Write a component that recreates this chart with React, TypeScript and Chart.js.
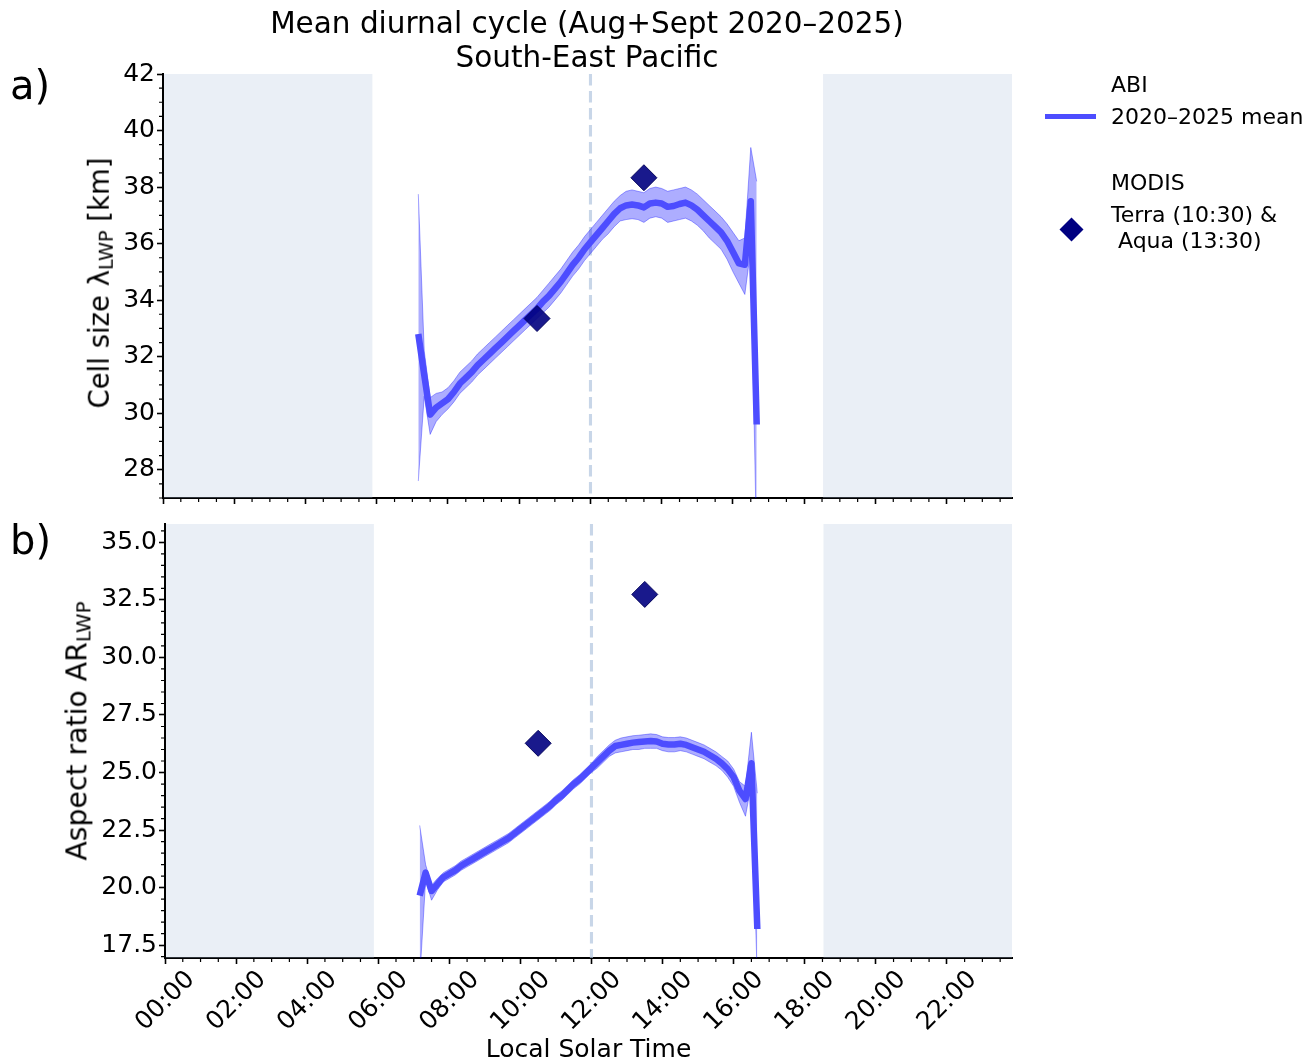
import React, { useEffect, useRef } from "react";
import { Chart, registerables } from "chart.js";

Chart.register(...registerables);

const FONT = "'DejaVu Sans', 'Liberation Sans', sans-serif";

// ---------- data ----------
const timeLabels = [
  "07:10", "07:20", "07:30", "07:40", "07:50",
  "08:00", "08:10", "08:20", "08:30", "08:40", "08:50",
  "09:00", "09:10", "09:20", "09:30", "09:40", "09:50",
  "10:00", "10:10", "10:20", "10:30", "10:40", "10:50",
  "11:00", "11:10", "11:20", "11:30", "11:40", "11:50",
  "12:00", "12:10", "12:20", "12:30", "12:40", "12:50",
  "13:00", "13:10", "13:20", "13:30", "13:40", "13:50",
  "14:00", "14:10", "14:20", "14:30", "14:40", "14:50",
  "15:00", "15:10", "15:20", "15:30", "15:40", "15:50",
  "16:00", "16:10", "16:20", "16:30", "16:40",
];

const cellMean = [
  32.8, 31.35, 29.95, 30.2, 30.35,
  30.5, 30.75, 31.05, 31.25, 31.45, 31.7,
  31.9, 32.1, 32.3, 32.5, 32.7, 32.9,
  33.1, 33.3, 33.5, 33.7, 33.95, 34.15,
  34.4, 34.65, 34.95, 35.25, 35.5, 35.8,
  36.05, 36.3, 36.55, 36.8, 37.05, 37.25,
  37.35, 37.38, 37.35, 37.28, 37.42, 37.45,
  37.42, 37.3, 37.33, 37.4, 37.45, 37.35,
  37.2, 37.0, 36.8, 36.6, 36.4, 36.1,
  35.7, 35.3, 35.25, 37.5, 29.6,
];
const cellLow = [
  27.6, 30.6, 29.25, 29.7, 29.95,
  30.15, 30.4, 30.7, 30.9, 31.1, 31.35,
  31.55, 31.75, 31.95, 32.15, 32.35, 32.55,
  32.75, 32.95, 33.15, 33.35, 33.55, 33.75,
  34.0, 34.25, 34.55, 34.85, 35.1, 35.4,
  35.65, 35.9, 36.15, 36.35, 36.6, 36.8,
  36.85, 36.88, 36.85, 36.75, 36.9, 36.95,
  36.9, 36.75, 36.8, 36.85, 36.9, 36.8,
  36.65, 36.45, 36.2, 36.0, 35.8, 35.45,
  35.0, 34.6, 34.2, 35.8, 25.0,
];
const cellHigh = [
  37.75, 32.2, 30.55, 30.7, 30.75,
  30.9, 31.15, 31.45, 31.65, 31.85, 32.1,
  32.3, 32.5, 32.7, 32.9, 33.1, 33.3,
  33.5, 33.7, 33.9, 34.1, 34.35, 34.6,
  34.85, 35.1, 35.4, 35.7, 35.95, 36.25,
  36.5, 36.75, 37.0, 37.25, 37.5, 37.7,
  37.85, 37.9, 37.85, 37.8, 37.95, 38.0,
  37.95, 37.85, 37.9, 37.95, 38.0, 37.9,
  37.75, 37.55, 37.35, 37.15, 36.95, 36.7,
  36.4, 36.1, 36.2, 39.4, 38.2,
];

const arMean = [
  19.65, 20.65, 19.85, 20.15, 20.45,
  20.6, 20.75, 20.95, 21.1, 21.25, 21.4,
  21.55, 21.7, 21.85, 22.0, 22.15, 22.35,
  22.55, 22.75, 22.95, 23.15, 23.35, 23.55,
  23.8, 24.0, 24.25, 24.5, 24.7, 24.95,
  25.2, 25.45, 25.7, 25.95, 26.15, 26.2,
  26.25, 26.3, 26.33, 26.35, 26.37, 26.35,
  26.25, 26.22, 26.22, 26.25, 26.2, 26.1,
  26.0, 25.9, 25.75, 25.6, 25.4, 25.15,
  24.8, 24.2, 23.85, 25.4, 18.2,
];
const arLow = [
  16.0, 20.3, 19.45, 19.9, 20.25,
  20.4, 20.55, 20.75, 20.9, 21.05, 21.2,
  21.35, 21.5, 21.65, 21.8, 21.95, 22.15,
  22.35, 22.55, 22.75, 22.95, 23.15, 23.35,
  23.6, 23.8, 24.05, 24.3, 24.5, 24.75,
  25.0, 25.2, 25.45, 25.7, 25.85, 25.9,
  25.95, 26.0, 26.0, 26.05, 26.05, 26.05,
  25.95, 25.9, 25.9, 25.95, 25.9, 25.8,
  25.7, 25.6, 25.45, 25.3, 25.1, 24.8,
  24.4, 23.7, 23.1, 24.5, 16.0,
];
const arHigh = [
  22.7, 21.0, 20.1, 20.4, 20.65,
  20.8, 20.95, 21.15, 21.3, 21.45, 21.6,
  21.75, 21.9, 22.05, 22.2, 22.35, 22.55,
  22.75, 22.95, 23.15, 23.35, 23.55, 23.75,
  24.0, 24.2, 24.45, 24.7, 24.9, 25.15,
  25.4, 25.7, 25.95, 26.2, 26.4, 26.5,
  26.55, 26.6, 26.62, 26.65, 26.68, 26.65,
  26.55, 26.52, 26.52, 26.55, 26.5, 26.4,
  26.3, 26.2, 26.05, 25.9, 25.7, 25.5,
  25.15, 24.6, 24.4, 26.75, 24.1,
];

const modisTimes = [10.5, 13.5];
const modisCell = [33.35, 38.33];
const modisAR = [26.27, 32.74];

const xTickValues = [0, 2, 4, 6, 8, 10, 12, 14, 16, 18, 20, 22];
const cellTicks = [28, 30, 32, 34, 36, 38, 40, 42];
const arTicks = [17.5, 20, 22.5, 25, 27.5, 30, 32.5, 35];
const nightSpans = [
  [0, 5.85],
  [18.5, 23.833],
];
const noonHour = 12;
const X_MAX = 23.833;

// ---------- styles ----------
const LINE = "#4d4dff";
const BAND = "rgba(0,0,255,0.32)";
const BAND_EDGE = "rgba(0,0,255,0.35)";
const NIGHT = "rgba(176,196,222,0.27)";
const NOON = "rgba(176,196,222,0.7)";

const hours = timeLabels.map((t) => {
  const [h, m] = t.split(":").map(Number);
  return h + m / 60;
});

function minorValues(lo: number, hi: number, step: number, majors: number[]) {
  const out: number[] = [];
  const start = Math.ceil(lo / step - 1e-9) * step;
  for (let v = start; v <= hi + 1e-9; v += step) {
    const r = Math.round(v * 1000) / 1000;
    if (!majors.some((m) => Math.abs(m - r) < 1e-6)) out.push(r);
  }
  return out;
}

const decorPlugin = {
  id: "decor",
  beforeDatasetsDraw(chart: any) {
    const { ctx, chartArea, scales } = chart;
    const x = scales.x;
    const { left, right, top, bottom } = chartArea;
    ctx.save();
    ctx.beginPath();
    ctx.rect(left, top, right - left, bottom - top);
    ctx.clip();
    ctx.fillStyle = NIGHT;
    nightSpans.forEach(([a, b]) => {
      const x1 = x.getPixelForValue(a);
      const x2 = x.getPixelForValue(b);
      ctx.fillRect(x1 + 1, top, x2 - x1, bottom - top);
    });
    const nx = x.getPixelForValue(noonHour);
    ctx.strokeStyle = NOON;
    ctx.lineWidth = 3.1;
    ctx.setLineDash([11.5, 5.5]);
    ctx.beginPath();
    ctx.moveTo(nx, top);
    ctx.lineTo(nx, bottom);
    ctx.stroke();
    ctx.restore();
  },
  afterDraw(chart: any, _args: any, opts: any) {
    const { ctx, chartArea, scales } = chart;
    ctx.save();
    ctx.strokeStyle = "#000";
    ctx.lineWidth = 1.2;
    ctx.beginPath();
    (opts.xMinor || []).forEach((v: number) => {
      const px = scales.x.getPixelForValue(v);
      ctx.moveTo(px, chartArea.bottom);
      ctx.lineTo(px, chartArea.bottom + 4);
    });
    (opts.yMinor || []).forEach((v: number) => {
      const py = scales.y.getPixelForValue(v);
      ctx.moveTo(chartArea.left, py);
      ctx.lineTo(chartArea.left - 4, py);
    });
    ctx.stroke();
    ctx.restore();
  },
};

type Panel = {
  mean: number[];
  low: number[];
  high: number[];
  modis: number[];
  yMin: number;
  yMax: number;
  yTicks: number[];
  dec: number;
  showX: boolean;
  padTop: number;
  xAxisHeight: number;
  leftWidth: number;
};

function pad2(v: number) {
  const s = String(Math.round(v));
  return (s.length < 2 ? "0" + s : s) + ":00";
}

function buildChart(canvas: HTMLCanvasElement, p: Panel) {
  const pts = (arr: number[]) => hours.map((h, i) => ({ x: h, y: arr[i] }));
  const gridOpts = {
    display: true,
    drawOnChartArea: false,
    drawTicks: true,
    tickLength: 6,
    tickWidth: 1.6,
    tickColor: "#000",
  };
  const borderOpts = { display: true, color: "#000", width: 2 };
  return new Chart(canvas, {
    type: "line",
    data: {
      datasets: [
        {
          type: "scatter",
          label: "MODIS",
          data: modisTimes.map((t, i) => ({ x: t, y: p.modis[i] })),
          pointStyle: "rectRot",
          pointRadius: 13,
          backgroundColor: "rgba(0,0,128,0.9)",
          borderColor: "rgba(0,0,90,0.95)",
          borderWidth: 1,
        } as any,
        {
          label: "mean",
          data: pts(p.mean),
          borderColor: LINE,
          borderWidth: 6.5,
          pointRadius: 0,
          fill: false,
          tension: 0,
          borderJoinStyle: "round",
          borderCapStyle: "butt",
        },
        {
          label: "high",
          data: pts(p.high),
          borderColor: BAND_EDGE,
          backgroundColor: BAND,
          borderWidth: 1,
          pointRadius: 0,
          fill: "+1",
          tension: 0,
        },
        {
          label: "low",
          data: pts(p.low),
          borderColor: BAND_EDGE,
          borderWidth: 1,
          pointRadius: 0,
          fill: false,
          tension: 0,
        },
      ],
    },
    options: {
      responsive: false,
      animation: false,
      devicePixelRatio: 1,
      events: [],
      layout: { padding: { left: 0, top: p.padTop, right: 1309 - 1012, bottom: 0 } },
      plugins: {
        legend: { display: false },
        tooltip: { enabled: false },
        decor: {
          xMinor: minorValues(0, X_MAX, 0.5, xTickValues),
          yMinor: minorValues(p.yMin, p.yMax, 0.5, p.yTicks),
        },
      } as any,
      scales: {
        x: {
          type: "linear",
          min: 0,
          max: X_MAX,
          afterBuildTicks: (s: any) => {
            s.ticks = xTickValues.map((v) => ({ value: v }));
          },
          afterFit: (s: any) => {
            s.height = p.xAxisHeight;
          },
          ticks: {
            display: p.showX,
            autoSkip: false,
            minRotation: 45,
            maxRotation: 45,
            labelOffset: 26,
            padding: 1,
            color: "#000",
            font: { family: FONT, size: 25 },
            callback: (v: any) => pad2(Number(v)),
          },
          grid: gridOpts,
          border: borderOpts,
          title: {
            display: p.showX,
            text: "Local Solar Time",
            color: "#000",
            font: { family: FONT, size: 25 },
            padding: { top: 0, bottom: 0 },
          },
        },
        y: {
          type: "linear",
          min: p.yMin,
          max: p.yMax,
          afterBuildTicks: (s: any) => {
            s.ticks = p.yTicks.map((v) => ({ value: v }));
          },
          afterFit: (s: any) => {
            s.width = p.leftWidth;
          },
          ticks: {
            color: "#000",
            padding: 2,
            font: { family: FONT, size: 25 },
            callback: (v: any) => Number(v).toFixed(p.dec),
          },
          grid: gridOpts,
          border: borderOpts,
        },
      },
    } as any,
    plugins: [decorPlugin],
  });
}

type TxtProps = {
  x: number;
  y: number;
  size: number;
  anchor?: "left" | "center";
  rotate?: boolean;
  children: React.ReactNode;
};

function Txt({ x, y, size, anchor = "left", rotate = false, children }: TxtProps) {
  let transform = anchor === "center" ? "translate(-50%,-50%)" : "translate(0,-50%)";
  if (rotate) transform = "translate(-50%,-50%) rotate(-90deg)";
  return (
    <div
      style={{
        position: "absolute",
        left: x,
        top: y,
        fontSize: size,
        lineHeight: 1,
        fontFamily: FONT,
        color: "#000",
        whiteSpace: "pre",
        transform,
      }}
    >
      {children}
    </div>
  );
}

const Sub = ({ children }: { children: React.ReactNode }) => (
  <span style={{ fontSize: "70%", verticalAlign: "-0.22em" }}>{children}</span>
);

export default function App() {
  const refA = useRef<HTMLCanvasElement>(null);
  const refB = useRef<HTMLCanvasElement>(null);

  useEffect(() => {
    const a = buildChart(refA.current as HTMLCanvasElement, {
      mean: cellMean,
      low: cellLow,
      high: cellHigh,
      modis: modisCell,
      yMin: 27,
      yMax: 42,
      yTicks: cellTicks,
      dec: 0,
      showX: false,
      padTop: 74,
      xAxisHeight: 32,
      leftWidth: 163,
    });
    const b = buildChart(refB.current as HTMLCanvasElement, {
      mean: arMean,
      low: arLow,
      high: arHigh,
      modis: modisAR,
      yMin: 16.94,
      yMax: 35.8,
      yTicks: arTicks,
      dec: 1,
      showX: true,
      padTop: 44,
      xAxisHeight: 107,
      leftWidth: 165,
    });
    return () => {
      a.destroy();
      b.destroy();
    };
  }, []);

  return (
    <div
      style={{
        position: "absolute",
        left: 0,
        top: 0,
        width: 1309,
        height: 1063,
        background: "#fff",
        overflow: "hidden",
      }}
    >
      <canvas
        ref={refA}
        width={1309}
        height={530}
        style={{ position: "absolute", left: 0, top: 0 }}
      />
      <canvas
        ref={refB}
        width={1309}
        height={585}
        style={{ position: "absolute", left: 0, top: 480 }}
      />

      <Txt x={587} y={24} size={29.5} anchor="center">
        Mean diurnal cycle (Aug+Sept 2020–2025)
      </Txt>
      <Txt x={587} y={58} size={29.5} anchor="center">
        South-East Pacific
      </Txt>

      <Txt x={10} y={85} size={40}>
        a)
      </Txt>
      <Txt x={10} y={540} size={40}>
        b)
      </Txt>

      <Txt x={101} y={283} size={27.5} rotate>
        Cell size λ<Sub>LWP</Sub> [km]
      </Txt>
      <Txt x={79} y={731} size={28.3} rotate>
        Aspect ratio AR<Sub>LWP</Sub>
      </Txt>

      <Txt x={1111} y={85} size={22}>
        ABI
      </Txt>
      <div
        style={{
          position: "absolute",
          left: 1045,
          top: 114,
          width: 51,
          height: 5,
          background: LINE,
        }}
      />
      <Txt x={1111} y={117} size={22}>
        2020–2025 mean
      </Txt>
      <Txt x={1111} y={183} size={22}>
        MODIS
      </Txt>
      <div
        style={{
          position: "absolute",
          left: 1071 - 8.5,
          top: 229 - 8.5,
          width: 17,
          height: 17,
          background: "#000080",
          transform: "rotate(45deg)",
        }}
      />
      <Txt x={1111} y={215} size={22}>
        Terra (10:30) &amp;
      </Txt>
      <Txt x={1111} y={241} size={22}>
        {" Aqua (13:30)"}
      </Txt>
    </div>
  );
}
